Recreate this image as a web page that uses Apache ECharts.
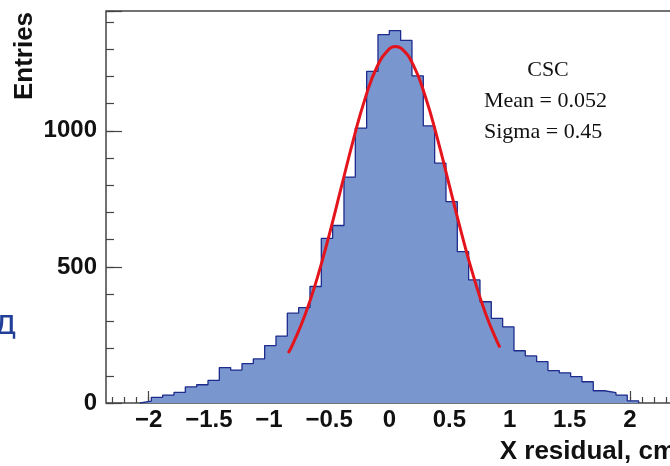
<!DOCTYPE html>
<html><head><meta charset="utf-8">
<script src="https://cdn.jsdelivr.net/npm/echarts@6/dist/echarts.min.js"></script>
<style>html,body{margin:0;padding:0;background:#fff}#c{width:670px;height:466px}</style>
</head><body><div id="c"></div>
<script>
// Histogram: 50 equal bins over the axis range
const histMin = -2.355, histMax = 2.355, nBins = 50;
const entries = [0,0,0,
  7,21,29,39,59,67,83,130,121,145,162,211,246,330,350,428,605,652,830,1010,1218,1353,
  1368,1332,1202,1018,881,740,556,452,372,311,280,192,173,152,119,111,97,78,45,38,29,8,
  0,0,0];
// Gaussian fit curve
const fitX = [-0.84,-0.8,-0.7,-0.6,-0.5,-0.4,-0.3,-0.2,-0.1,0.0,0.05,0.1,0.2,0.3,0.4,0.5,0.6,0.7,0.8,0.9,0.92];
const fitY = [184,218,324,458,617,791,965,1120,1237,1301,1310,1303,1241,1125,971,798,624,465,329,222,204];
// Axis ranges / tick labels
const yMax = 1440;
const xMajorTicks = [-2,-1.5,-1,-0.5,0,0.5,1,1.5,2];
const statLines = ['CSC','Mean = 0.052','Sigma = 0.45'];

const X0 = 389.3, S = 120.3, TOP = 11, BOT = 403;
const H = BOT - TOP;
const xmin = histMin, xmax = histMax;
const bw = (histMax - histMin) / nBins;

// stepped outline, only over the non-empty range
let first = entries.findIndex(v => v > 0);
let last = entries.length - 1; while (entries[last] === 0) last--;
const histData = [[histMin + first*bw, 0]];
for (let i = first; i <= last; i++) histData.push([histMin + i*bw, entries[i]]);
histData.push([histMin + (last+1)*bw, 0]);
const fitData = fitX.map((x, i) => [x, fitY[i]]);

const axisCol = '#444';
const lblFont = {fontFamily:'Liberation Sans', fontWeight:'bold', fontSize:24, color:'#111'};
const fmt = v => v < 0 ? '\u2212' + (-v) : String(v);
const noLine = {show:false, onZero:false};

const chart = echarts.init(document.getElementById('c'), null, {renderer:'canvas'});
chart.setOption({
  animation: false,
  backgroundColor: '#fff',
  grid: [
    {left:106, top:TOP, width:(xmax-xmin)*S, height:H, show:true, borderColor:axisCol, borderWidth:1.5, backgroundColor:'transparent', outerBoundsMode:'none', containLabel:false},
    {left:X0-2.3*S, top:TOP, width:4.6*S, height:H, outerBoundsMode:'none', containLabel:false},
    {left:X0+xMajorTicks[0]*S, top:TOP, width:(xMajorTicks[xMajorTicks.length-1]-xMajorTicks[0])*S, height:H, outerBoundsMode:'none', containLabel:false}
  ],
  xAxis: [
    {gridIndex:0, type:'value', min:xmin, max:xmax, axisLine:noLine, axisTick:{show:false}, axisLabel:{show:false}, splitLine:{show:false}},
    {gridIndex:1, type:'value', min:-2.3, max:2.3, interval:0.1, position:'bottom', axisLine:noLine,
     axisTick:{inside:true, length:6, lineStyle:{color:axisCol, width:1.2}}, axisLabel:{show:false}, splitLine:{show:false}},
    {gridIndex:2, type:'value', min:xMajorTicks[0], max:xMajorTicks[xMajorTicks.length-1], interval:0.5, position:'bottom', axisLine:noLine,
     axisTick:{inside:true, length:12, lineStyle:{color:axisCol, width:1.2}},
     axisLabel:Object.assign({margin:5, formatter:fmt}, lblFont), splitLine:{show:false}}
  ],
  yAxis: [
    {gridIndex:0, type:'value', min:0, max:yMax, interval:100, position:'left', axisLine:noLine,
     axisTick:{inside:true, length:8, lineStyle:{color:axisCol, width:1.2}}, axisLabel:{show:false}, splitLine:{show:false}},
    {gridIndex:0, type:'value', min:0, max:yMax, interval:500, position:'left', axisLine:noLine,
     axisTick:{inside:true, length:16, lineStyle:{color:axisCol, width:1.2}},
     axisLabel:Object.assign({margin:9, formatter:v => (v % 500 === 0 ? String(v) : '')}, lblFont), splitLine:{show:false}},
    {gridIndex:1, type:'value', min:0, max:yMax, show:false},
    {gridIndex:2, type:'value', min:0, max:yMax, show:false}
  ],
  series: [
    {type:'line', xAxisIndex:0, yAxisIndex:0, data:histData, step:'end', symbol:'none',
     lineStyle:{color:'#1d2b8c', width:1.3}, areaStyle:{color:'#7a96cf', opacity:1}, z:2},
    {type:'line', xAxisIndex:0, yAxisIndex:0, data:fitData, smooth:true, symbol:'none',
     lineStyle:{color:'#e3141b', width:3}, z:3}
  ],
  graphic: [
    {type:'text', x:25, y:56, rotation:Math.PI/2, style:{text:'Entries', font:'bold 26px "Liberation Sans"', fill:'#111', align:'center', verticalAlign:'middle'}},
    {type:'text', x:676, y:452, style:{text:'X residual, cm', font:'bold 26px "Liberation Sans"', fill:'#111', align:'right', verticalAlign:'middle'}},
    {type:'text', x:548, y:70, style:{text:statLines[0], font:'22px "Liberation Serif"', fill:'#111', align:'center', verticalAlign:'middle'}},
    {type:'text', x:484, y:101, style:{text:statLines[1], font:'22px "Liberation Serif"', fill:'#111', align:'left', verticalAlign:'middle'}},
    {type:'text', x:484, y:132, style:{text:statLines[2], font:'22px "Liberation Serif"', fill:'#111', align:'left', verticalAlign:'middle'}},
    {type:'text', x:17, y:325, style:{text:'д', font:'34px "DejaVu Sans"', fill:'#213f99', align:'right', verticalAlign:'middle'}}
  ]
});
</script></body></html>
